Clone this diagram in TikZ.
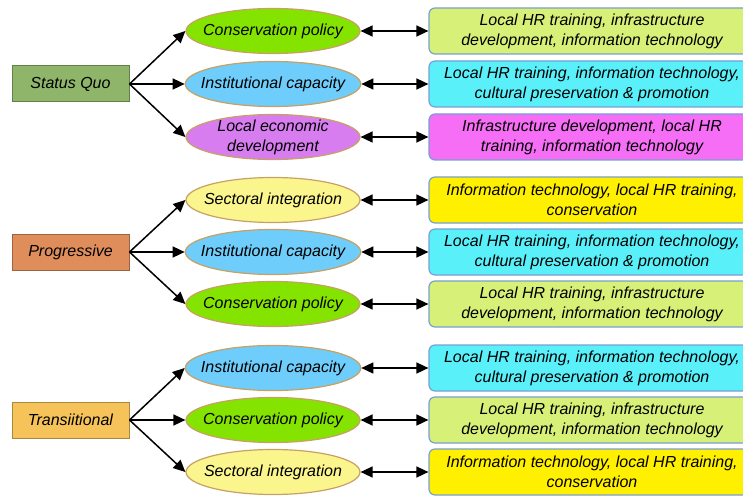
\documentclass[tikz,border=0pt]{standalone}
\usepackage{fontspec}
\setmainfont{Liberation Sans}
\usetikzlibrary{shapes.geometric,arrows.meta}

\begin{document}
\begin{tikzpicture}[x=1pt, y=1pt,
    font=\fontsize{16}{20}\selectfont\itshape,
    >={Triangle[length=12pt,width=11pt]},
    scenario/.style={draw=#1!70!black, line width=1pt, fill=#1,
        minimum width=117pt, minimum height=36pt, inner sep=0pt},
    topic/.style={ellipse, draw=ellipseBorder, line width=1.2pt, fill=#1,
        minimum width=174pt, minimum height=45pt,
        inner xsep=-10pt, inner ysep=-8pt, align=center},
    measure/.style={draw=boxBorder, line width=1.2pt, fill=#1, rounded corners=6pt,
        minimum width=326pt, minimum height=46pt, inner sep=0pt, align=center},
    link/.style={line width=1.5pt, ->},
    twoway/.style={line width=1.5pt, <->}]

    \definecolor{statusColour}{HTML}{8FB56A}
    \definecolor{progressColour}{HTML}{E08D5C}
    \definecolor{transitColour}{HTML}{F5C35A}
    \definecolor{ellipseBorder}{HTML}{C8A064}
    \definecolor{boxBorder}{HTML}{78A0D2}
    \definecolor{policyColour}{HTML}{84E400}
    \definecolor{capacityColour}{HTML}{6ECDFA}
    \definecolor{economyColour}{HTML}{D77DF0}
    \definecolor{sectorColour}{HTML}{FAF58C}
    \definecolor{limeBox}{HTML}{D7F078}
    \definecolor{cyanBox}{HTML}{5AF0FA}
    \definecolor{pinkBox}{HTML}{F56EF5}
    \definecolor{yellowBox}{HTML}{FFF000}

    \useasboundingbox (0,0) rectangle (743,496);
    \clip (0,0) rectangle (743,496);

    % Status quo scenario
    \node[scenario=statusColour] (sq) at (70.5,412) {Status Quo};
    \node[topic=policyColour] (sq1) at (273,465) {Conservation policy};
    \node[topic=capacityColour] (sq2) at (273,412) {Institutional capacity};
    \node[topic=economyColour] (sq3) at (273,359) {Local economic\\development};
    \node[measure=limeBox] (sq1m) at (592,465) {Local HR training, infrastructure\\development, information technology};
    \node[measure=cyanBox] (sq2m) at (592,412) {Local HR training, information technology,\\cultural preservation \& promotion};
    \node[measure=pinkBox] (sq3m) at (592,359) {Infrastructure development, local HR\\training, information technology};

    % Progressive scenario
    \node[scenario=progressColour] (pr) at (70.5,244) {Progressive};
    \node[topic=sectorColour] (pr1) at (273,296) {Sectoral integration};
    \node[topic=capacityColour] (pr2) at (273,244) {Institutional capacity};
    \node[topic=policyColour] (pr3) at (273,192) {Conservation policy};
    \node[measure=yellowBox] (pr1m) at (592,296) {Information technology, local HR training,\\conservation};
    \node[measure=cyanBox] (pr2m) at (592,244) {Local HR training, information technology,\\cultural preservation \& promotion};
    \node[measure=limeBox] (pr3m) at (592,192) {Local HR training, infrastructure\\development, information technology};

    % Transitional scenario
    \node[scenario=transitColour] (tr) at (70.5,76) {Transiitional};
    \node[topic=capacityColour] (tr1) at (273,128) {Institutional capacity};
    \node[topic=policyColour] (tr2) at (273,76) {Conservation policy};
    \node[topic=sectorColour] (tr3) at (273,24) {Sectoral integration};
    \node[measure=cyanBox] (tr1m) at (592,128) {Local HR training, information technology,\\cultural preservation \& promotion};
    \node[measure=limeBox] (tr2m) at (592,76) {Local HR training, infrastructure\\development, information technology};
    \node[measure=yellowBox] (tr3m) at (592,24) {Information technology, local HR training,\\conservation};

    % Arrows
    \foreach \g in {sq,pr,tr}
        \foreach \i in {1,2,3} {
            \draw[link] (\g.east) -- (\g\i.west);
            \draw[twoway] (\g\i.east) -- (\g\i m.west);
        }

\end{tikzpicture}
\end{document}
